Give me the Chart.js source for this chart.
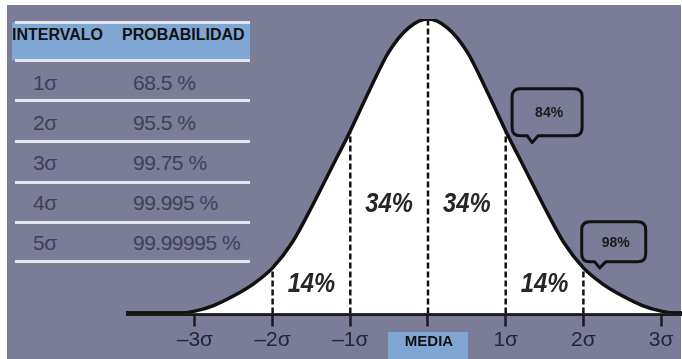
<!DOCTYPE html>
<html>
<head>
<meta charset="utf-8">
<script src="https://cdn.jsdelivr.net/npm/chart.js@4.4.1/dist/chart.umd.min.js"></script>
<style>
  body { margin: 0; background: #fff; }
  #wrap { position: relative; width: 682px; height: 359px; overflow: hidden; }
  #frame { position: absolute; left: 7px; top: 5px; width: 674px; height: 354px; background: #7a7c98; }
  #charts { position: absolute; left: 0; top: 0; }
  .t { position: absolute; font-family: 'Liberation Sans', Arial, sans-serif; white-space: nowrap; line-height: 1; }
  .head { font-weight: bold; font-size: 16px; color: #111; }
  .cell { font-size: 21px; color: #3f4159; letter-spacing: -0.5px; }
  .rule { position: absolute; left: 15px; width: 235px; height: 3px; background: #e4e6ee; }
</style>
</head>
<body>
<div id="wrap">
  <div id="frame"></div>
  <div id="table"></div>
  <canvas id="charts" width="682" height="359"></canvas>
</div>
<script>
// curve (height of the bell, peak = 100)
const sigmaX = [-3.9, -3.25, -3, -2.75, -2.5, -2.25, -2, -1.75, -1.5, -1.25, -1, -0.75, -0.5, -0.25, 0,
                0.25, 0.5, 0.75, 1, 1.25, 1.5, 1.75, 2, 2.25, 2.5, 2.75, 3, 3.25, 3.3];
const density = [0, 0, 0.8, 2.8, 6, 10, 15.5, 24, 36, 49, 62, 76, 89, 97, 100,
                 97, 89, 76, 62, 49, 36, 24, 15.5, 10, 6, 2.8, 0.8, 0, 0];

const tickSigmas = [-3, -2, -1, 0, 1, 2, 3];
const tickLabels = ['–3σ', '–2σ', '–1σ', 'MEDIA', '1σ', '2σ', '3σ'];
const dividers = [-2, -1, 0, 1, 2];

const areaLabels = ['14%', '34%', '34%', '14%'];
const areaX = [-1.5, -0.5, 0.5, 1.5];
const areaY = [10, 37, 37, 10];

const calloutLabels = ['84%', '98%'];
const calloutX = [1.34, 2.21];
const calloutY = [58, 15.5];

const intervals = ['1σ', '2σ', '3σ', '4σ', '5σ'];
const probabilities = ['68.5 %', '95.5 %', '99.75 %', '99.995 %', '99.99995 %'];

// table on the left
const table = document.getElementById('table');
let html = '<div style="position:absolute;left:12px;top:22px;width:238px;height:38px;background:#80a6d4"></div>';
[22, 60, 100, 141, 182, 222, 261].forEach(y => {
    html += `<div class="rule" style="top:${y - 1.5}px"></div>`;
});
html += '<div class="t head" style="left:12px;top:27px">INTERVALO</div>';
html += '<div class="t head" style="left:122px;top:27px">PROBABILIDAD</div>';
intervals.forEach((iv, i) => {
    const y = 82 + 40 * i - 10;
    html += `<div class="t cell" style="left:33px;top:${y}px">${iv}</div>`;
    html += `<div class="t cell" style="left:133px;top:${y}px">${probabilities[i]}</div>`;
});
table.innerHTML = html;

const curve = sigmaX.map((x, i) => ({ x: x, y: density[i] }));

const dashSets = dividers.map(d => ({
    data: [{ x: d, y: 0 }, { x: d, y: density[sigmaX.indexOf(d)] - 0.5 }],
    borderColor: '#111',
    borderWidth: 2.5,
    borderDash: [6, 3],
    pointRadius: 0,
    fill: false,
    order: 0
}));

const labelsPlugin = {
    id: 'labelsPlugin',
    afterDraw(chart) {
        const c = chart.ctx;
        const xs = chart.scales.x, ys = chart.scales.y;
        c.save();
        c.textAlign = 'center';
        c.textBaseline = 'middle';

        // MEDIA label box under the zero tick
        const mx = xs.getPixelForValue(0);
        c.fillStyle = '#80a6d4';
        c.fillRect(mx - 40, 332, 80, 27);
        c.fillStyle = '#111';
        c.font = 'bold 15px "Liberation Sans", Arial, sans-serif';
        c.fillText(tickLabels[tickSigmas.indexOf(0)], mx + 1, 342);

        c.fillStyle = '#262626';
        c.font = 'italic bold 28px "Liberation Sans", Arial, sans-serif';
        areaLabels.forEach((t, i) => {
            c.save();
            c.translate(xs.getPixelForValue(areaX[i]), ys.getPixelForValue(areaY[i]));
            c.scale(0.85, 1);
            c.fillText(t, 0, 0);
            c.restore();
        });

        // speech bubbles, box placed relative to the tail tip
        const boxes = [
            { l: -20, r: 50, t: -54, b: -7 },
            { l: -18, r: 46, t: -46, b: -6 }
        ];
        c.strokeStyle = '#111';
        c.lineWidth = 3;
        c.lineJoin = 'round';
        calloutLabels.forEach((t, i) => {
            const tx = xs.getPixelForValue(calloutX[i]);
            const ty = ys.getPixelForValue(calloutY[i]);
            const bx = boxes[i];
            const L = tx + bx.l, R = tx + bx.r, T = ty + bx.t, B = ty + bx.b, rad = 8;
            c.beginPath();
            c.moveTo(L + rad, T);
            c.lineTo(R - rad, T);
            c.quadraticCurveTo(R, T, R, T + rad);
            c.lineTo(R, B - rad);
            c.quadraticCurveTo(R, B, R - rad, B);
            c.lineTo(tx + 6, B);
            c.lineTo(tx, ty);
            c.lineTo(tx - 5, B);
            c.lineTo(L + rad, B);
            c.quadraticCurveTo(L, B, L, B - rad);
            c.lineTo(L, T + rad);
            c.quadraticCurveTo(L, T, L + rad, T);
            c.closePath();
            c.stroke();
            c.fillStyle = '#1a1a1a';
            c.font = 'bold 14px "Liberation Sans", Arial, sans-serif';
            c.fillText(t, (L + R) / 2 + 2, (T + B) / 2 + 1);
        });
        c.restore();
    }
};

new Chart(document.getElementById('charts'), {
    type: 'line',
    data: {
        datasets: [
            {
                data: curve,
                borderColor: '#111',
                borderWidth: 3.5,
                backgroundColor: '#fff',
                fill: 'origin',
                pointRadius: 0,
                cubicInterpolationMode: 'monotone',
                order: 1
            },
            ...dashSets
        ]
    },
    options: {
        responsive: false,
        animation: false,
        devicePixelRatio: 1,
        layout: { padding: { left: 128, top: 19, right: 0, bottom: 0 } },
        plugins: { legend: { display: false }, tooltip: { enabled: false } },
        scales: {
            x: {
                type: 'linear',
                min: -3.861,
                max: 3.269,
                afterBuildTicks: (scale) => {
                    scale.ticks = tickSigmas.map(v => ({ value: v }));
                },
                afterFit: (scale) => { scale.height = 45.5; },
                border: { color: '#1a1a1a', width: 5 },
                grid: {
                    drawOnChartArea: false,
                    color: '#1a1a1a',
                    tickLength: 13,
                    tickWidth: 2.5
                },
                ticks: {
                    autoSkip: false,
                    maxRotation: 0,
                    padding: 1,
                    color: '#23253a',
                    callback: (v) => v === 0 ? '' : tickLabels[tickSigmas.indexOf(v)],
                    font: { family: '"Liberation Sans", Arial, sans-serif', size: 21 }
                }
            },
            y: {
                display: false,
                min: 0,
                max: 100
            }
        }
    },
    plugins: [labelsPlugin]
});
</script>
</body>
</html>
